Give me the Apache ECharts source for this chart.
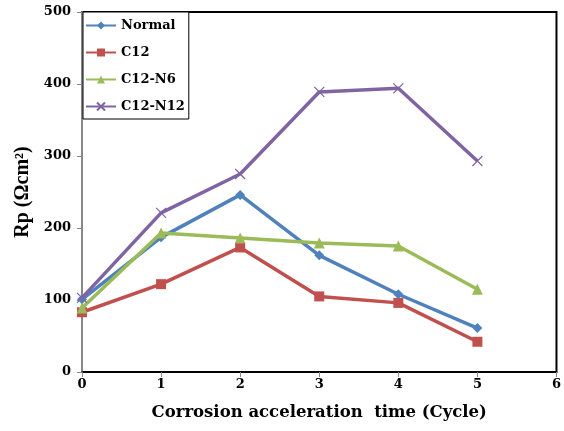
<!DOCTYPE html>
<html><head><meta charset="utf-8">
<script src="https://cdn.jsdelivr.net/npm/echarts@6/dist/echarts.min.js"></script>
<style>html,body{margin:0;padding:0;background:#fff}#c{width:564px;height:431px}</style>
</head><body><div id="c"></div>
<script>
var cycles = [0, 1, 2, 3, 4, 5];
var normal = [101, 187, 246, 162, 108, 61];
var c12 = [83, 122, 173, 105, 96, 42];
var c12n6 = [89, 193, 186, 179, 175, 115];
var c12n12 = [103, 221, 275, 389, 394, 293];
var xTicks = [0, 1, 2, 3, 4, 5, 6];
var yTicks = [0, 100, 200, 300, 400, 500];

function pts(arr){ return cycles.map(function(c,i){ return [c, arr[i]]; }); }
var font = 'Liberation Serif';
var wide = 'DejaVu Serif';
var chart = echarts.init(document.getElementById('c'));
var xPath = 'path://M0,0L10,10M10,0L0,10';
chart.setOption({
  animation: false,
  textStyle: {fontFamily: font},
  grid: {left: 82, right: 7, top: 12, bottom: 59, show: true, borderColor: '#000', borderWidth: 2, backgroundColor: 'transparent'},
  legend: {
    orient: 'vertical', left: 83, top: 12, padding: [7, 4, 6, 2],
    backgroundColor: '#fff', borderColor: '#000', borderWidth: 1, borderRadius: 0,
    itemWidth: 30, itemHeight: 10, itemGap: 14,
    textStyle: {fontFamily: wide, fontWeight: 'bold', fontSize: 13, color: '#000'},
    data: ['Normal', 'C12', 'C12-N6', 'C12-N12']
  },
  xAxis: {
    type: 'value', min: 0, max: 6, interval: 1,
    name: 'Corrosion acceleration  time (Cycle)', nameLocation: 'middle', nameGap: 32,
    nameTextStyle: {fontFamily: wide, fontWeight: 'bold', fontSize: 16.5, color: '#000'},
    axisLine: {lineStyle: {color: '#000', width: 1.5}},
    axisTick: {show: true, inside: false, length: 5, lineStyle: {color: '#888'}},
    axisLabel: {fontFamily: wide, fontWeight: 'bold', fontSize: 13, color: '#000', margin: 6,
      formatter: function(v){ return xTicks.indexOf(v) >= 0 ? String(v) : ''; }},
    splitLine: {show: false}
  },
  yAxis: {
    type: 'value', min: 0, max: 500, interval: 100,
    name: 'Rp (Ωcm²)', nameLocation: 'middle', nameGap: 49,
    nameTextStyle: {fontFamily: font, fontWeight: 'bold', fontSize: 20, color: '#000'},
    axisLine: {show: true, lineStyle: {color: '#888', width: 2}},
    axisTick: {show: true, inside: false, length: 5, lineStyle: {color: '#888'}},
    axisLabel: {fontFamily: wide, fontWeight: 'bold', fontSize: 13, color: '#000', margin: 11,
      formatter: function(v){ return yTicks.indexOf(v) >= 0 ? String(v) : ''; }},
    splitLine: {show: false}
  },
  series: [
    {name: 'Normal', type: 'line', data: pts(normal), symbol: 'diamond', symbolSize: 10,
     lineStyle: {color: '#4F81BD', width: 3.5}, itemStyle: {color: '#4F81BD'}, z: 3},
    {name: 'C12', type: 'line', data: pts(c12), symbol: 'rect', symbolSize: 10,
     lineStyle: {color: '#C0504D', width: 3.5}, itemStyle: {color: '#C0504D'}, z: 2},
    {name: 'C12-N6', type: 'line', data: pts(c12n6), symbol: 'triangle', symbolSize: 11,
     lineStyle: {color: '#9BBB59', width: 3.5}, itemStyle: {color: '#9BBB59'}, z: 4},
    {name: 'C12-N12', type: 'line', data: pts(c12n12), symbol: xPath, symbolSize: 10,
     lineStyle: {color: '#8064A2', width: 3.5}, itemStyle: {color: '#8064A2', borderColor: '#8064A2', borderWidth: 1.2}, z: 5}
  ]
});
</script></body></html>
